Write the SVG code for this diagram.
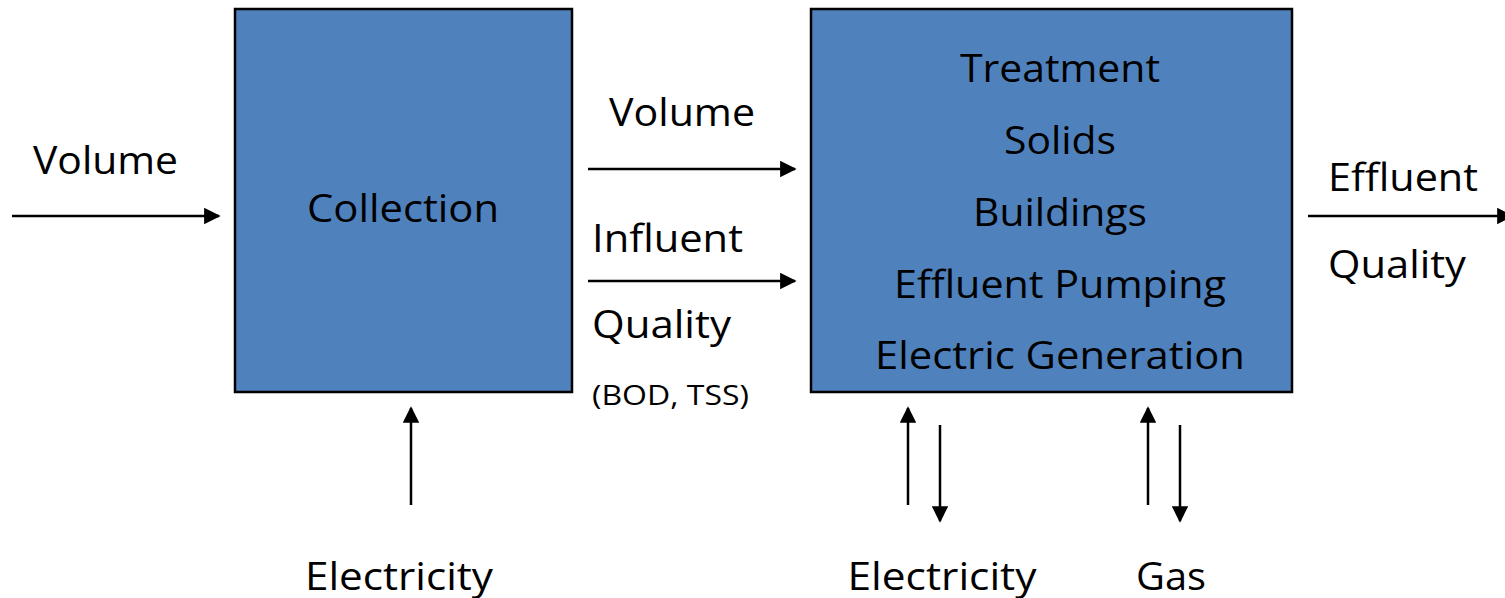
<svg xmlns="http://www.w3.org/2000/svg" width="1505" height="598" viewBox="0 0 1505 598">
<style>
.box{fill:#4F81BD;stroke:#000;stroke-width:2.5}
.t{font-family:"Open Sans","Noto Sans",sans-serif;font-size:39px;fill:#000}
.m{text-anchor:middle}
.s{font-size:28px}
.c{stroke:#000;stroke-width:2.5;fill:none;marker-end:url(#ah)}
</style>
<defs>
<marker id="ah" viewBox="0 0 10 10" refX="9" refY="5" markerWidth="6.6" markerHeight="6.6" markerUnits="strokeWidth" orient="auto">
<path d="M0,0 L10,5 L0,10 Z" fill="#000"/>
</marker>
</defs>
<rect width="1505" height="598" fill="#fff"/>
<g id="collection">
<rect class="box" x="235" y="9" width="337" height="383"/>
<text class="t m" x="403" y="222" textLength="192" lengthAdjust="spacingAndGlyphs">Collection</text>
</g>
<g id="plant">
<rect class="box" x="811" y="9" width="481" height="383"/>
<text class="t m" x="1060" y="82" textLength="200" lengthAdjust="spacingAndGlyphs">Treatment</text>
<text class="t m" x="1060" y="154" textLength="112" lengthAdjust="spacingAndGlyphs">Solids</text>
<text class="t m" x="1060" y="226" textLength="174" lengthAdjust="spacingAndGlyphs">Buildings</text>
<text class="t m" x="1060" y="298" textLength="332" lengthAdjust="spacingAndGlyphs">Effluent Pumping</text>
<text class="t m" x="1060" y="369" textLength="370" lengthAdjust="spacingAndGlyphs">Electric Generation</text>
</g>
<g id="labels">
<text class="t" x="33" y="174" textLength="145" lengthAdjust="spacingAndGlyphs">Volume</text>
<text class="t" x="609" y="126" textLength="146" lengthAdjust="spacingAndGlyphs">Volume</text>
<text class="t" x="592" y="252" textLength="151" lengthAdjust="spacingAndGlyphs">Influent</text>
<text class="t" x="592" y="338" textLength="139" lengthAdjust="spacingAndGlyphs">Quality</text>
<text class="t s" x="592" y="405" textLength="157" lengthAdjust="spacingAndGlyphs">(BOD, TSS)</text>
<text class="t" x="1328" y="191" textLength="150" lengthAdjust="spacingAndGlyphs">Effluent</text>
<text class="t" x="1328" y="278" textLength="138" lengthAdjust="spacingAndGlyphs">Quality</text>
<text class="t m" x="399" y="590" textLength="188" lengthAdjust="spacingAndGlyphs">Electricity</text>
<text class="t m" x="942" y="590" textLength="189" lengthAdjust="spacingAndGlyphs">Electricity</text>
<text class="t m" x="1171" y="590" textLength="70" lengthAdjust="spacingAndGlyphs">Gas</text>
</g>
<g id="connectors">
<line class="c" x1="12" y1="216" x2="219" y2="216"/>
<line class="c" x1="588" y1="169" x2="795" y2="169"/>
<line class="c" x1="588" y1="281" x2="795" y2="281"/>
<line class="c" x1="1308" y1="216" x2="1512" y2="216"/>
<line class="c" x1="411" y1="505" x2="411" y2="408"/>
<line class="c" x1="908" y1="505" x2="908" y2="408"/>
<line class="c" x1="940" y1="425" x2="940" y2="521"/>
<line class="c" x1="1148" y1="505" x2="1148" y2="408"/>
<line class="c" x1="1180" y1="425" x2="1180" y2="521"/>
</g>
</svg>
